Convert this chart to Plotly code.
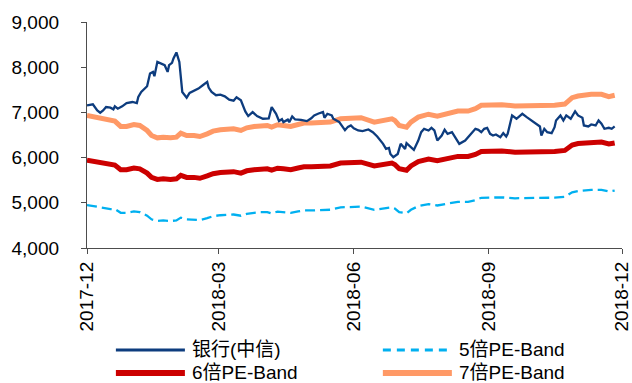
import plotly.graph_objects as go

# 银行(中信) index level
bank_dates = [
    "2017-12-01", "2017-12-05", "2017-12-08", "2017-12-10", "2017-12-12", "2017-12-14",
    "2017-12-17", "2017-12-19", "2017-12-20", "2017-12-22", "2017-12-25", "2017-12-28",
    "2018-01-01", "2018-01-04", "2018-01-05", "2018-01-07", "2018-01-11", "2018-01-13",
    "2018-01-15", "2018-01-16", "2018-01-18", "2018-01-21", "2018-01-23", "2018-01-25",
    "2018-01-26", "2018-01-28", "2018-01-29", "2018-01-31", "2018-02-02", "2018-02-04",
    "2018-02-07", "2018-02-09", "2018-02-12", "2018-02-15", "2018-02-18", "2018-02-21",
    "2018-02-22", "2018-02-24", "2018-02-27", "2018-03-02", "2018-03-05", "2018-03-08",
    "2018-03-11", "2018-03-13", "2018-03-16", "2018-03-19", "2018-03-21", "2018-03-24",
    "2018-03-27", "2018-03-31", "2018-04-04", "2018-04-06", "2018-04-09", "2018-04-11",
    "2018-04-13", "2018-04-14", "2018-04-17", "2018-04-18", "2018-04-20", "2018-04-22",
    "2018-04-26", "2018-04-30", "2018-05-03", "2018-05-05", "2018-05-08", "2018-05-11",
    "2018-05-12", "2018-05-14", "2018-05-17", "2018-05-18", "2018-05-22", "2018-05-26",
    "2018-05-28", "2018-05-30", "2018-06-01", "2018-06-04", "2018-06-07", "2018-06-11",
    "2018-06-14", "2018-06-17", "2018-06-21", "2018-06-23", "2018-06-25", "2018-06-26",
    "2018-06-28", "2018-07-01", "2018-07-03", "2018-07-06", "2018-07-07", "2018-07-10",
    "2018-07-12", "2018-07-15", "2018-07-17", "2018-07-19", "2018-07-22", "2018-07-24",
    "2018-07-26", "2018-07-28", "2018-07-31", "2018-08-02", "2018-08-04", "2018-08-07",
    "2018-08-10", "2018-08-12", "2018-08-16", "2018-08-18", "2018-08-20", "2018-08-23",
    "2018-08-25", "2018-08-27", "2018-08-29", "2018-08-31", "2018-09-02", "2018-09-04",
    "2018-09-06", "2018-09-09", "2018-09-11", "2018-09-13", "2018-09-14", "2018-09-17",
    "2018-09-20", "2018-09-24", "2018-09-27", "2018-09-30", "2018-10-04", "2018-10-06",
    "2018-10-07", "2018-10-09", "2018-10-11", "2018-10-14", "2018-10-16", "2018-10-17",
    "2018-10-20", "2018-10-22", "2018-10-24", "2018-10-27", "2018-10-30", "2018-11-01",
    "2018-11-04", "2018-11-05", "2018-11-08", "2018-11-10", "2018-11-13", "2018-11-15",
    "2018-11-17", "2018-11-19", "2018-11-22", "2018-11-24", "2018-11-26",
]
bank_values = [
    7156, 7178, 7044, 6993, 7044, 7118,
    7104, 7067, 7133, 7082, 7133, 7207,
    7230, 7207, 7341, 7452, 7578, 7859,
    7896, 7800, 8118, 8067, 8044, 7896,
    8044, 8096, 8193, 8326, 8118, 7452,
    7326, 7430, 7474, 7526, 7600, 7674,
    7548, 7452, 7380, 7393, 7356, 7280,
    7260, 7335, 7267, 7020, 6920, 7007,
    6920, 6859, 6865, 7118, 6970, 6810,
    6850, 6785, 6840, 6785, 6911, 6844,
    6835, 6807, 6870, 6933, 6975, 7007,
    6882, 6970, 6933, 6859, 6790, 6605,
    6680, 6711, 6650, 6600, 6585, 6622,
    6563, 6467, 6304, 6193, 6215, 6081,
    6007, 6081, 6304, 6193, 6319, 6230,
    6170, 6378, 6563, 6637, 6600, 6659,
    6600, 6378, 6489, 6615, 6526, 6563,
    6415, 6304, 6378, 6452, 6526, 6637,
    6615, 6563, 6637, 6659, 6526, 6489,
    6511, 6452, 6541, 6467, 6526, 6933,
    6859, 6970, 6896, 6822, 6733, 6689,
    6489, 6637, 6563, 6541, 6674, 6822,
    6933, 6822, 6933, 6859, 7022, 6933,
    6882, 6711, 6689, 6733, 6711, 6822,
    6748, 6637, 6659, 6637, 6689,
]

# PE-Band levels (index EPS x multiple)
band_dates = [
    "2017-12-01", "2017-12-10", "2017-12-17", "2017-12-20", "2017-12-24", "2017-12-28",
    "2018-01-02", "2018-01-06", "2018-01-11", "2018-01-14", "2018-01-18", "2018-01-22",
    "2018-01-27", "2018-01-31", "2018-02-03", "2018-02-07", "2018-02-12", "2018-02-16",
    "2018-02-21", "2018-02-25", "2018-03-02", "2018-03-07", "2018-03-11", "2018-03-16",
    "2018-03-20", "2018-03-25", "2018-03-29", "2018-04-03", "2018-04-06", "2018-04-10",
    "2018-04-14", "2018-04-19", "2018-04-24", "2018-04-28", "2018-05-03", "2018-05-07",
    "2018-05-16", "2018-05-23", "2018-06-01", "2018-06-06", "2018-06-15", "2018-06-27",
    "2018-06-29", "2018-07-02", "2018-07-07", "2018-07-10", "2018-07-15", "2018-07-22",
    "2018-07-28", "2018-08-04", "2018-08-11", "2018-08-18", "2018-08-23", "2018-08-27",
    "2018-09-03", "2018-09-10", "2018-09-19", "2018-09-28", "2018-10-07", "2018-10-16",
    "2018-10-23", "2018-10-28", "2018-11-01", "2018-11-10", "2018-11-17", "2018-11-22",
    "2018-11-26",
]
band5_values = [
    4950, 4899, 4862, 4862, 4778, 4778,
    4809, 4794, 4714, 4635, 4598, 4609,
    4598, 4609, 4672, 4635, 4635, 4619,
    4661, 4704, 4725, 4741, 4741, 4714,
    4756, 4778, 4794, 4794, 4767, 4804,
    4794, 4778, 4809, 4831, 4831, 4831,
    4846, 4899, 4907, 4916, 4846, 4899,
    4873, 4794, 4767, 4846, 4926, 4971,
    4941, 4989, 5021, 5021, 5059, 5111,
    5121, 5121, 5100, 5104, 5100, 5114,
    5132, 5233, 5259, 5286, 5286, 5250,
    5270,
]
band6_values = [
    5940, 5879, 5835, 5835, 5733, 5733,
    5771, 5752, 5657, 5562, 5517, 5530,
    5517, 5530, 5607, 5562, 5562, 5543,
    5594, 5644, 5670, 5689, 5689, 5657,
    5708, 5733, 5752, 5752, 5721, 5765,
    5752, 5733, 5771, 5797, 5797, 5797,
    5816, 5879, 5889, 5899, 5816, 5879,
    5847, 5752, 5721, 5816, 5911, 5966,
    5930, 5987, 6026, 6026, 6070, 6134,
    6146, 6146, 6120, 6124, 6120, 6137,
    6159, 6279, 6311, 6343, 6343, 6300,
    6324,
]
band7_values = [
    6930, 6859, 6807, 6807, 6689, 6689,
    6733, 6711, 6600, 6489, 6437, 6452,
    6437, 6452, 6541, 6489, 6489, 6467,
    6526, 6585, 6615, 6637, 6637, 6600,
    6659, 6689, 6711, 6711, 6674, 6726,
    6711, 6689, 6733, 6763, 6763, 6763,
    6785, 6859, 6870, 6882, 6785, 6859,
    6822, 6711, 6674, 6785, 6896, 6960,
    6918, 6985, 7030, 7030, 7082, 7156,
    7170, 7170, 7140, 7145, 7140, 7160,
    7185, 7326, 7363, 7400, 7400, 7350,
    7378,
]

tick_dates = ["2017-12-01", "2018-03-01", "2018-06-01", "2018-09-01", "2018-12-01"]
tick_labels = ["2017-12", "2018-03", "2018-06", "2018-09", "2018-12"]

NAVY = "#0D3C7E"
SKY = "#00B0F0"
RED = "#CC0000"
SALMON = "#FF9966"
AXIS = "#4D4D4D"
FONT = "Arial, 'Liberation Sans', 'Noto Sans CJK SC', sans-serif"

series = [
    ("7倍PE-Band", band_dates, band7_values, dict(color=SALMON, width=5)),
    ("6倍PE-Band", band_dates, band6_values, dict(color=RED, width=5)),
    ("5倍PE-Band", band_dates, band5_values, dict(color=SKY, width=2.3, dash="10px,5px")),
    ("银行(中信)", bank_dates, bank_values, dict(color=NAVY, width=2.3)),
]

fig = go.Figure()
for name, xs, ys, line in series:
    fig.add_trace(go.Scatter(x=xs, y=ys, name=name, mode="lines", line=line,
                             showlegend=False))

# Two-column legend below the plot, built from line swatches and labels
legend_items = [
    ("银行(中信)", dict(color=NAVY, width=3), 0.054, 0.183, -0.451),
    ("5倍PE-Band", dict(color=SKY, width=3, dash="8px,6px"), 0.553, 0.682, -0.451),
    ("6倍PE-Band", dict(color=RED, width=6), 0.054, 0.183, -0.553),
    ("7倍PE-Band", dict(color=SALMON, width=6), 0.553, 0.682, -0.553),
]
for label, line, x0, x1, y in legend_items:
    fig.add_shape(type="line", xref="paper", yref="paper", x0=x0, x1=x1, y0=y, y1=y,
                  line=line)
    fig.add_annotation(text=label, xref="paper", yref="paper", x=x1 + 0.009, y=y,
                       xanchor="left", yanchor="middle", showarrow=False,
                       font=dict(size=19, color="#000000", family=FONT))

fig.update_layout(
    width=632, height=383,
    margin=dict(l=87, r=10, t=22, b=135),
    paper_bgcolor="white", plot_bgcolor="white",
    font=dict(family=FONT, size=19, color="#000000"),
    showlegend=False,
)
fig.update_xaxes(
    type="date", range=["2017-12-01", "2018-12-01"], automargin=False,
    tickvals=tick_dates, ticktext=tick_labels, tickangle=-90,
    ticklabeloverflow="allow",
    ticks="outside", ticklen=5, tickcolor=AXIS, tickwidth=1.3,
    showline=True, linecolor=AXIS, linewidth=1.3, showgrid=False, zeroline=False,
    tickfont=dict(size=19),
)
fig.update_yaxes(
    range=[4000, 9000], dtick=1000, tickformat=",d", automargin=False,
    ticks="outside", ticklen=5, tickcolor=AXIS, tickwidth=1.3,
    showline=True, linecolor=AXIS, linewidth=1.3, showgrid=False, zeroline=False,
    ticklabelstandoff=18, tickfont=dict(size=19),
)

fig.write_html("out.html")
